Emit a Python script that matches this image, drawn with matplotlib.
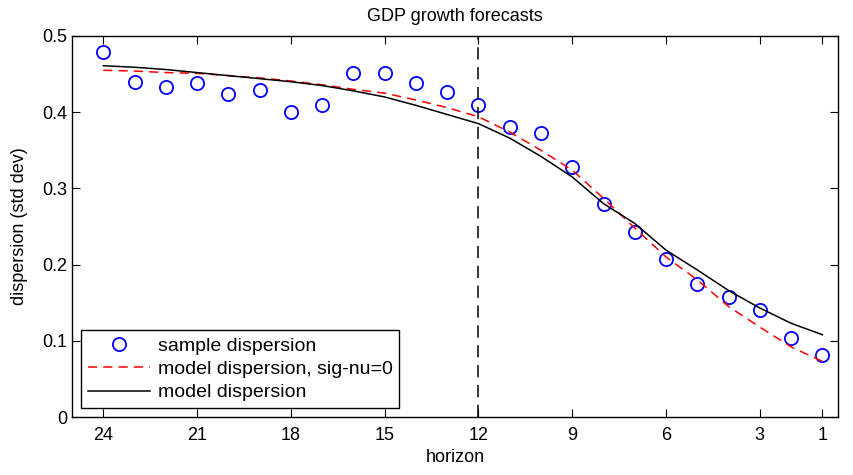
import matplotlib
matplotlib.use('Agg')
import matplotlib.pyplot as plt

plt.rcParams['font.family'] = ['Liberation Sans', 'DejaVu Sans']

horizon = list(range(24, 0, -1))
sample_disp = [0.479, 0.439, 0.433, 0.438, 0.424, 0.429, 0.400, 0.410,
               0.451, 0.451, 0.438, 0.426, 0.409, 0.380, 0.373, 0.328,
               0.280, 0.243, 0.207, 0.175, 0.158, 0.140, 0.104, 0.082]
model_sig0 = [0.455, 0.454, 0.452, 0.451, 0.448, 0.445, 0.441, 0.436,
              0.430, 0.425, 0.416, 0.406, 0.394, 0.374, 0.350, 0.324,
              0.287, 0.248, 0.210, 0.180, 0.145, 0.118, 0.092, 0.073]
model_disp = [0.461, 0.459, 0.456, 0.452, 0.448, 0.444, 0.440, 0.435,
              0.428, 0.420, 0.409, 0.397, 0.385, 0.366, 0.342, 0.315,
              0.280, 0.254, 0.219, 0.193, 0.166, 0.143, 0.123, 0.108]
xticks = [24, 21, 18, 15, 12, 9, 6, 3, 1]

fig = plt.figure(figsize=(8.54, 4.75), dpi=100)
ax = fig.add_axes([72/854, 1 - 417/475, (838-72)/854, (417-36)/475])

ax.plot(horizon, sample_disp, 'o', color='blue', mfc='none', ms=9.5, mew=1.3,
        label='sample dispersion')
ax.plot(horizon, model_sig0, '--', color='red', lw=1.1, dashes=(6, 4),
        label='model dispersion, sig-nu=0')
ax.plot(horizon, model_disp, '-', color='black', lw=1.1,
        label='model dispersion')
ax.axvline(12, color='black', ls='--', lw=1.1, dashes=(8, 5))

ax.set_xlim(25, 0.5)
ax.set_ylim(0, 0.5)
ax.set_xticks(xticks)
ax.set_yticks([0, 0.1, 0.2, 0.3, 0.4, 0.5])
ax.set_yticklabels(['0', '0.1', '0.2', '0.3', '0.4', '0.5'])
ax.tick_params(direction='in', top=True, right=True, length=6, labelsize=13)
ax.tick_params(axis='x', pad=7)
for s in ax.spines.values():
    s.set_linewidth(1.0)

ax.set_title('GDP growth forecasts', fontsize=13, pad=11)
ax.set_xlabel('horizon', fontsize=13, labelpad=4)
ax.set_ylabel('dispersion (std dev)', fontsize=13, labelpad=10)

leg = ax.legend(loc='lower left', fontsize=14, fancybox=False, framealpha=1,
                edgecolor='black', borderaxespad=0.45, handlelength=3.2,
                handletextpad=0.4, labelspacing=0.3, borderpad=0.35)
leg.get_frame().set_linewidth(1.0)

fig.savefig('out.png', dpi=100)
